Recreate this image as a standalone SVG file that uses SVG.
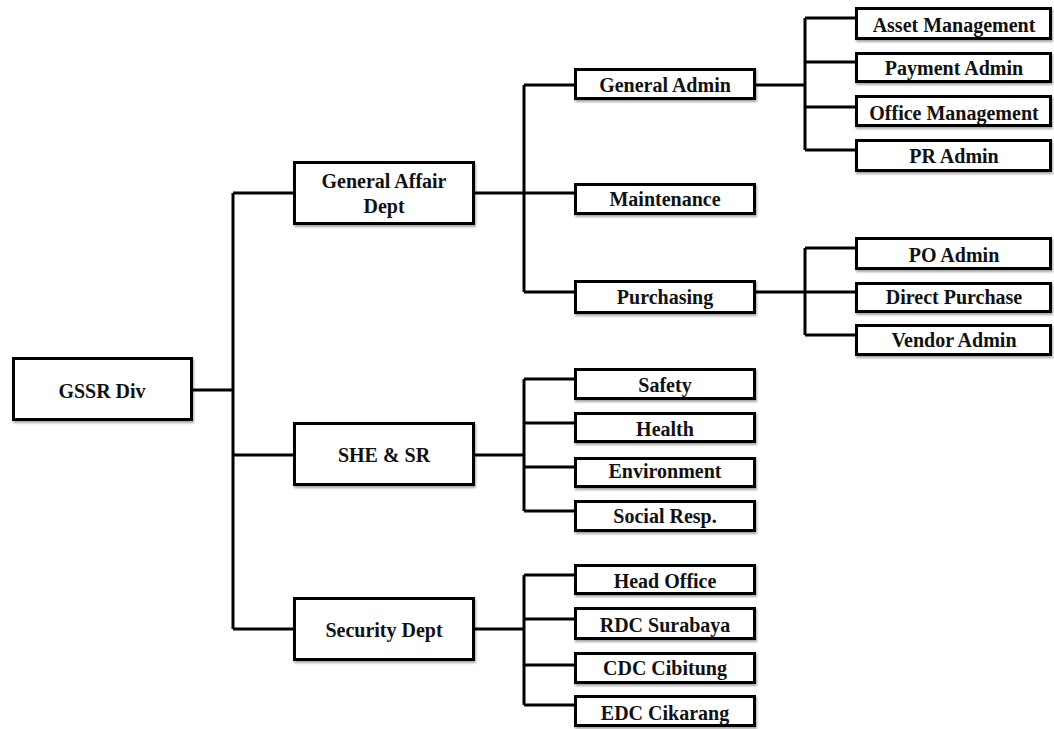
<svg xmlns="http://www.w3.org/2000/svg" width="1054" height="729" viewBox="0 0 1054 729">
<style>
.box{fill:#fff;stroke:#000;stroke-width:3;filter:url(#sh)}
.t{font-family:"Liberation Serif","Times New Roman",serif;font-weight:bold;font-size:20px;fill:#111;text-anchor:middle}
.c{fill:none;stroke:#000;stroke-width:3;stroke-linejoin:miter}
</style>
<defs>
<filter id="sh" x="-10%" y="-20%" width="120%" height="150%">
<feDropShadow dx="1" dy="2" stdDeviation="1" flood-color="#000" flood-opacity="0.35"/>
</filter>
</defs>
<rect width="1054" height="729" fill="#fff"/>
<g id="connectors">
<path class="c" d="M192 390H233M233 193V629M233 193H294M233 455H294M233 629H294"/>
<path class="c" d="M474 193H575M524 85V292M524 85H575M524 292H575"/>
<path class="c" d="M755 85H805M805 18V150M805 18H856M805 62H856M805 107H856M805 150H856"/>
<path class="c" d="M755 292H856M805 248V335M805 248H856M805 335H856"/>
<path class="c" d="M474 455H524M524 379V511M524 379H575M524 423H575M524 467H575M524 511H575"/>
<path class="c" d="M474 629H524M524 575V705M524 575H575M524 619H575M524 665H575M524 705H575"/>
</g>
<g id="gssr"><rect class="box" x="13.5" y="358.5" width="178" height="61"/><text class="t" x="102" y="398" font-size="20.5">GSSR Div</text></g>
<g id="general-affair"><rect class="box" x="294.5" y="162.5" width="179" height="61"/><text class="t" x="384" y="188">General Affair</text><text class="t" x="384" y="213">Dept</text></g>
<g id="she-sr"><rect class="box" x="294.5" y="423.5" width="179" height="61"/><text class="t" x="384" y="462">SHE &amp; SR</text></g>
<g id="security"><rect class="box" x="294.5" y="598.5" width="179" height="61"/><text class="t" x="384" y="637">Security Dept</text></g>
<g id="general-admin"><rect class="box" x="575.5" y="69.5" width="179" height="29"/><text class="t" x="665" y="92">General Admin</text></g>
<g id="maintenance"><rect class="box" x="575.5" y="184.5" width="179" height="29"/><text class="t" x="665" y="206">Maintenance</text></g>
<g id="purchasing"><rect class="box" x="575.5" y="281.5" width="179" height="31"/><text class="t" x="665" y="304">Purchasing</text></g>
<g id="asset"><rect class="box" x="856.5" y="8.5" width="194" height="30"/><text class="t" x="954" y="32">Asset Management</text></g>
<g id="payment"><rect class="box" x="856.5" y="53.5" width="194" height="28"/><text class="t" x="954" y="75">Payment Admin</text></g>
<g id="office"><rect class="box" x="856.5" y="96.5" width="194" height="29"/><text class="t" x="954" y="120">Office Management</text></g>
<g id="pr"><rect class="box" x="856.5" y="140.5" width="194" height="30"/><text class="t" x="954" y="163">PR Admin</text></g>
<g id="po"><rect class="box" x="856.5" y="238.5" width="194" height="30"/><text class="t" x="954" y="262">PO Admin</text></g>
<g id="direct"><rect class="box" x="856.5" y="283.5" width="194" height="28"/><text class="t" x="954" y="304">Direct Purchase</text></g>
<g id="vendor"><rect class="box" x="856.5" y="325.5" width="194" height="29"/><text class="t" x="954" y="347">Vendor Admin</text></g>
<g id="safety"><rect class="box" x="575.5" y="369.5" width="179" height="29"/><text class="t" x="665" y="392">Safety</text></g>
<g id="health"><rect class="box" x="575.5" y="413.5" width="179" height="28"/><text class="t" x="665" y="436">Health</text></g>
<g id="environment"><rect class="box" x="575.5" y="458.5" width="179" height="28"/><text class="t" x="665" y="478">Environment</text></g>
<g id="social"><rect class="box" x="575.5" y="501.5" width="179" height="29"/><text class="t" x="665" y="523">Social Resp.</text></g>
<g id="head-office"><rect class="box" x="575.5" y="565.5" width="179" height="28"/><text class="t" x="665" y="588">Head Office</text></g>
<g id="rdc"><rect class="box" x="575.5" y="608.5" width="179" height="30"/><text class="t" x="665" y="632">RDC Surabaya</text></g>
<g id="cdc"><rect class="box" x="575.5" y="653.5" width="179" height="29"/><text class="t" x="665" y="675">CDC Cibitung</text></g>
<g id="edc"><rect class="box" x="575.5" y="696.5" width="179" height="29"/><text class="t" x="665" y="720">EDC Cikarang</text></g>
</svg>
